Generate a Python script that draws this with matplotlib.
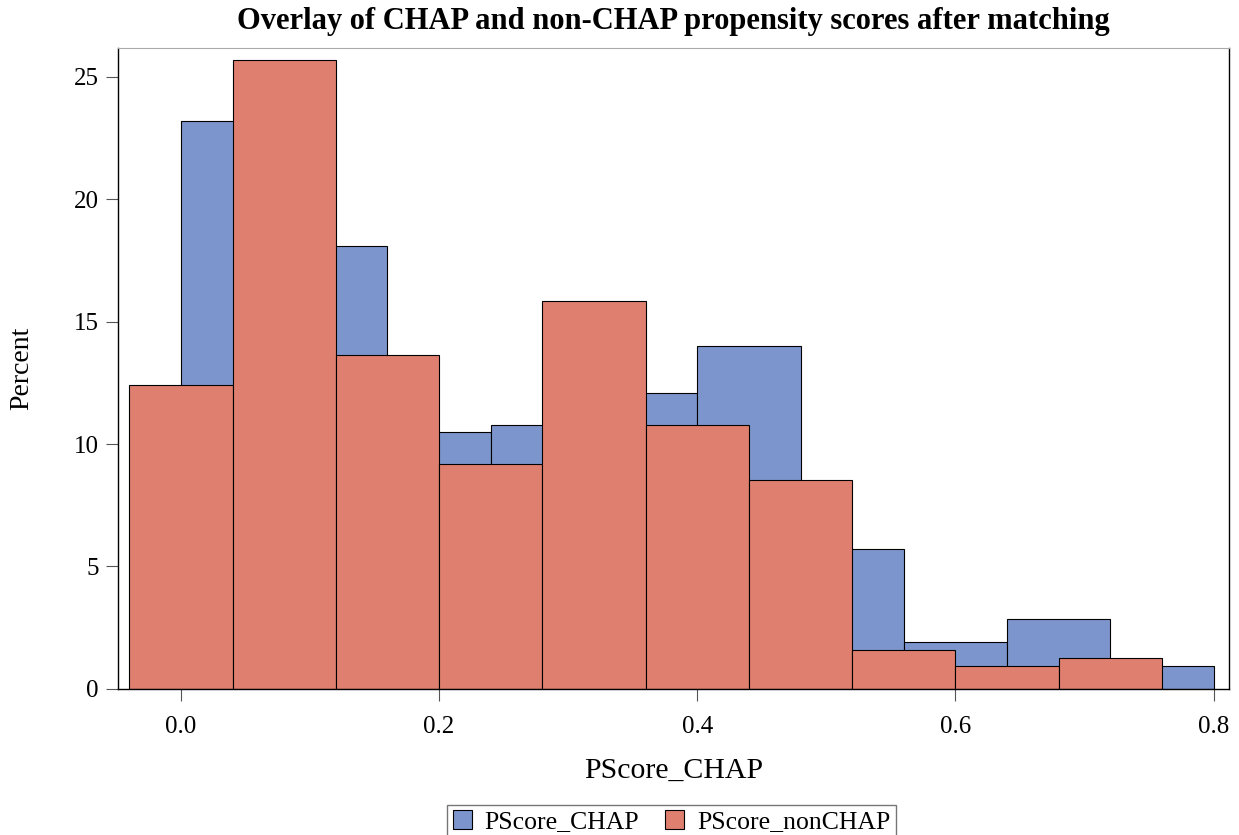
import matplotlib.pyplot as plt
from matplotlib.patches import Patch

plt.rcParams['font.family'] = ['Liberation Serif', 'DejaVu Serif']

# Histogram bins (left edges) and percentages
chap_left = [0.00, 0.08, 0.16, 0.24, 0.32, 0.40, 0.48, 0.56, 0.64, 0.72]
chap_pct = [23.2, 18.1, 10.5, 10.8, 12.1, 14.0, 5.7, 1.9, 2.85, 0.95]
nonchap_left = [-0.04, 0.04, 0.12, 0.20, 0.28, 0.36, 0.44, 0.52, 0.60, 0.68]
nonchap_pct = [12.4, 25.7, 13.65, 9.2, 15.85, 10.8, 8.55, 1.6, 0.95, 1.25]
bin_width = 0.08

x_ticks = [0.0, 0.2, 0.4, 0.6, 0.8]
y_ticks = [0, 5, 10, 15, 20, 25]

blue = '#7C96CD'
red = '#DE7F6F'

fig = plt.figure(figsize=(12.39, 8.35), dpi=100)
ax = fig.add_axes([0.095, 0.175, 0.897, 0.768])

ax.bar(chap_left, chap_pct, width=bin_width, align='edge', color=blue,
       edgecolor='black', linewidth=0.8)
ax.bar(nonchap_left, nonchap_pct, width=bin_width, align='edge', color=red,
       edgecolor='black', linewidth=0.8)

ax.set_xlim(-0.049, 0.812)
ax.set_ylim(0, 26.2)
ax.set_xticks(x_ticks)
ax.set_xticklabels(['0.0', '0.2', '0.4', '0.6', '0.8'])
ax.set_yticks(y_ticks)
ax.tick_params(axis='both', labelsize=18, length=8.5, width=0.8, color='#555555')
ax.tick_params(axis='x', pad=11)
ax.tick_params(axis='y', pad=5)

ax.spines['top'].set_color('#aaaaaa')
ax.spines['top'].set_linewidth(0.8)
for side in ['left', 'bottom', 'right']:
    ax.spines[side].set_color('black')
    ax.spines[side].set_linewidth(1.0)

ax.set_xlabel('PScore_CHAP', fontsize=21.5, labelpad=14)
ax.set_ylabel('Percent', fontsize=20)
ax.yaxis.set_label_coords(-0.075, 0.5)
ax.set_title('Overlay of CHAP and non-CHAP propensity scores after matching',
             fontsize=22, fontweight='bold', pad=13.5)

handles = [Patch(facecolor=blue, edgecolor='black', linewidth=0.8, label='PScore_CHAP'),
           Patch(facecolor=red, edgecolor='black', linewidth=0.8, label='PScore_nonCHAP')]
fig.legend(handles=handles, loc='upper center', bbox_to_anchor=(0.542, 0.036), ncol=2,
           fontsize=18.5, frameon=True, fancybox=False, edgecolor='#555555',
           handlelength=0.75, handleheight=0.75, handletextpad=0.5, columnspacing=1.0,
           borderpad=0.2, borderaxespad=0.0)

fig.savefig('out.png', dpi=100)
